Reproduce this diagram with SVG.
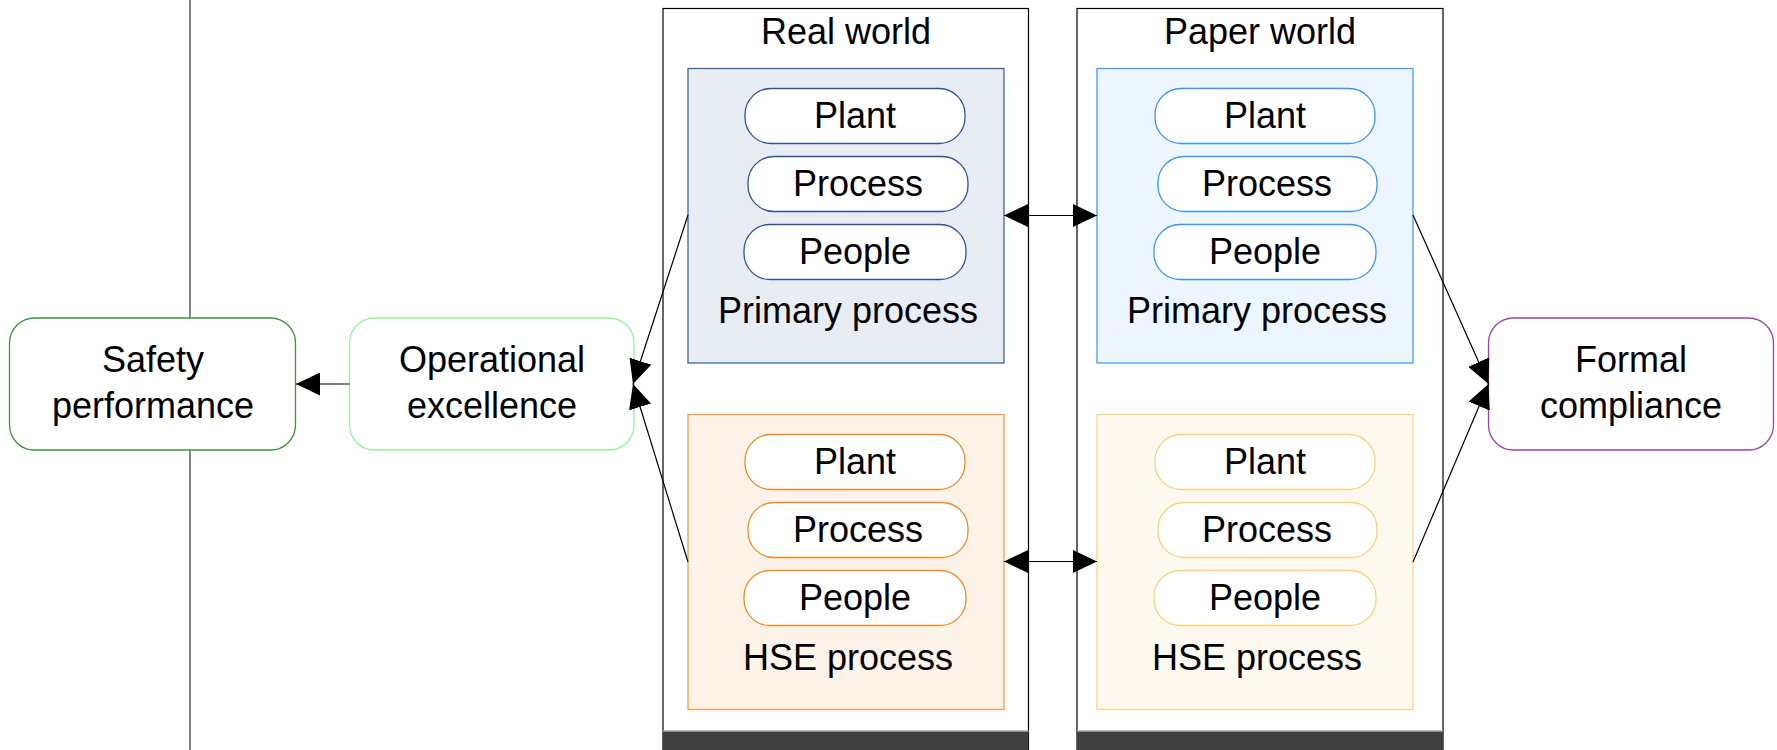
<svg xmlns="http://www.w3.org/2000/svg" width="1777" height="750" viewBox="0 0 1777 750">
<style>
text{font-family:"Liberation Sans",Arial,sans-serif;font-size:36px;fill:#000;text-anchor:middle}
.pill{fill:#fff;stroke-width:1.3}
.world{fill:#fff;stroke:#000;stroke-width:1.2}
.bar{fill:#404040}
.conn{stroke:#000;stroke-width:1.2;fill:none}
.node{fill:#fff;stroke-width:1.3}
</style>
<defs>
<marker id="ah" markerUnits="userSpaceOnUse" markerWidth="24" markerHeight="23" refX="24" refY="11.5" orient="auto-start-reverse" viewBox="0 0 24 23">
<path d="M0,0 L24,11.5 L0,23 z" fill="#000"/>
</marker>
</defs>
<line x1="190" y1="0" x2="190" y2="750" stroke="#333" stroke-width="1.2"/>
<g id="real-world">
<rect class="world" x="663" y="8.5" width="365.5" height="741"/>
<rect x="663" y="731" width="365.5" height="19" class="bar"/>
<line x1="663" y1="731" x2="1028.5" y2="731" stroke="#aaa" stroke-width="1.5"/>
<text x="846" y="44">Real world</text>
</g>
<g id="paper-world">
<rect class="world" x="1077" y="8.5" width="366" height="741"/>
<rect x="1077" y="731" width="366" height="19" class="bar"/>
<line x1="1077" y1="731" x2="1443" y2="731" stroke="#aaa" stroke-width="1.5"/>
<text x="1260" y="44">Paper world</text>
</g>
<g id="real-primary">
<rect x="688" y="68.5" width="316" height="294.5" fill="#e8edf4" stroke="#3d66a0" stroke-width="1.3"/>
<rect class="pill" x="745" y="88.5" width="220" height="55" rx="26" stroke="#2e5597"/>
<text x="855" y="128">Plant</text>
<rect class="pill" x="748" y="156.5" width="220" height="55" rx="26" stroke="#2e5597"/>
<text x="858" y="196">Process</text>
<rect class="pill" x="744" y="224.5" width="222" height="55" rx="26" stroke="#2e5597"/>
<text x="855" y="264">People</text>
<text x="848" y="323">Primary process</text>
</g>
<g id="paper-primary">
<rect x="1097" y="68.5" width="316" height="294.5" fill="#edf5fe" stroke="#4a9cf5" stroke-width="1.3"/>
<rect class="pill" x="1155" y="88.5" width="220" height="55" rx="26" stroke="#3d93f0"/>
<text x="1265" y="128">Plant</text>
<rect class="pill" x="1158" y="156.5" width="219" height="55" rx="26" stroke="#3d93f0"/>
<text x="1267" y="196">Process</text>
<rect class="pill" x="1154" y="224.5" width="222" height="55" rx="26" stroke="#3d93f0"/>
<text x="1265" y="264">People</text>
<text x="1257" y="323">Primary process</text>
</g>
<g id="real-hse">
<rect x="688" y="414.5" width="316" height="295" fill="#fdf3e9" stroke="#f79a46" stroke-width="1.3"/>
<rect class="pill" x="745" y="434.5" width="220" height="55" rx="26" stroke="#f58a22"/>
<text x="855" y="474">Plant</text>
<rect class="pill" x="748" y="502.5" width="220" height="55" rx="26" stroke="#f58a22"/>
<text x="858" y="542">Process</text>
<rect class="pill" x="744" y="570.5" width="222" height="55" rx="26" stroke="#f58a22"/>
<text x="855" y="610">People</text>
<text x="848" y="670">HSE process</text>
</g>
<g id="paper-hse">
<rect x="1097" y="414.5" width="316" height="295" fill="#fefaf0" stroke="#fdd486" stroke-width="1.3"/>
<rect class="pill" x="1155" y="434.5" width="220" height="55" rx="26" stroke="#fdd07a"/>
<text x="1265" y="474">Plant</text>
<rect class="pill" x="1158" y="502.5" width="219" height="55" rx="26" stroke="#fdd07a"/>
<text x="1267" y="542">Process</text>
<rect class="pill" x="1154" y="570.5" width="222" height="55" rx="26" stroke="#fdd07a"/>
<text x="1265" y="610">People</text>
<text x="1257" y="670">HSE process</text>
</g>
<g id="safety-performance">
<rect class="node" x="9.5" y="318" width="286" height="132" rx="25" stroke="#3d9140"/>
<text x="153" y="372">Safety</text>
<text x="153" y="418">performance</text>
</g>
<g id="operational-excellence">
<rect class="node" x="349.5" y="318" width="284.5" height="132" rx="25" stroke="#95f595"/>
<text x="492" y="372">Operational</text>
<text x="492" y="418">excellence</text>
</g>
<g id="formal-compliance">
<rect class="node" x="1488.5" y="318" width="285" height="132" rx="25" stroke="#a040a8"/>
<text x="1631" y="372">Formal</text>
<text x="1631" y="418">compliance</text>
</g>
<g id="connectors">
<line class="conn" x1="349.5" y1="384" x2="296" y2="384" stroke="#555" stroke-width="1.8" marker-end="url(#ah)"/>
<line class="conn" x1="688" y1="215" x2="633" y2="384" marker-end="url(#ah)"/>
<line class="conn" x1="688" y1="562" x2="633" y2="384" marker-end="url(#ah)"/>
<line class="conn" x1="1413" y1="215" x2="1488.5" y2="384" marker-end="url(#ah)"/>
<line class="conn" x1="1413" y1="562" x2="1488.5" y2="384" marker-end="url(#ah)"/>
<line class="conn" x1="1004" y1="215.5" x2="1097" y2="215.5" marker-start="url(#ah)" marker-end="url(#ah)"/>
<line class="conn" x1="1004" y1="561.5" x2="1097" y2="561.5" stroke="#555" stroke-width="1.5" marker-start="url(#ah)" marker-end="url(#ah)"/>
</g>
</svg>
